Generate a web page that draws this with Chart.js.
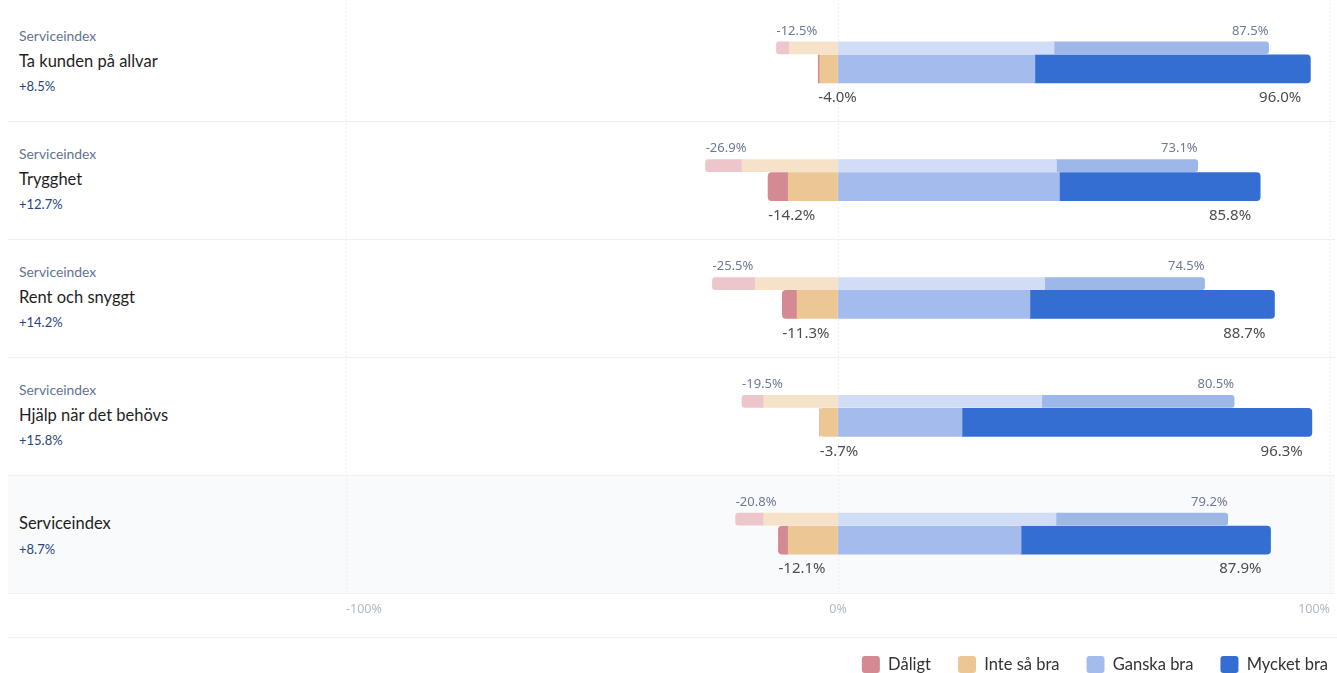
<!DOCTYPE html>
<html lang="sv">
<head>
<meta charset="utf-8">
<title>Serviceindex</title>
<script src="https://cdn.jsdelivr.net/npm/chart.js@4.4.1/dist/chart.umd.min.js"></script>
<style>
  html, body { margin: 0; padding: 0; background: #fff; }
  #wrap { position: relative; width: 1337px; height: 673px; overflow: hidden; font-family: Lato, sans-serif; }
  .row { position: absolute; left: 8px; width: 1327px; height: 117px; border-bottom: 1px solid #eef0f4; }
  .row.total { background: #f9fafc; }
  .row span { position: absolute; left: 11px; white-space: nowrap; line-height: 20px; }
  .kicker { font-size: 13.9px; color: #62738f; }
  .title { font-size: 16.5px; color: #1f1f1f; }
  .change { font-size: 13px; color: #27457f; }
  #footLine { position: absolute; left: 8px; right: 0; top: 637px; border-top: 1px solid #eef0f4; }
  #chart { position: absolute; left: 0; top: 0; }
</style>
</head>
<body>
<div id="wrap">
  <div id="rows"></div>
  <div id="footLine"></div>
  <canvas id="chart" width="1362" height="690"></canvas>
</div>
<script>
  // categories and left-hand texts
  const categories = ['Ta kunden på allvar', 'Trygghet', 'Rent och snyggt', 'Hjälp när det behövs', 'Serviceindex'];
  const kickers = ['Serviceindex', 'Serviceindex', 'Serviceindex', 'Serviceindex', ''];
  const changes = ['+8.5%', '+12.7%', '+14.2%', '+15.8%', '+8.7%'];

  const levels = ['Dåligt', 'Inte så bra', 'Ganska bra', 'Mycket bra'];

  // previous period (thin bars), percent
  const prevDaligt = [2.6, 7.4, 8.7, 4.4, 5.7];
  const prevInte = [9.9, 19.5, 16.8, 15.1, 15.1];
  const prevGanska = [43.9, 44.4, 42.0, 41.4, 44.3];
  const prevMycket = [43.6, 28.7, 32.5, 39.1, 34.9];

  // current period (thick bars), percent
  const currDaligt = [0.3, 4.1, 3.0, 0, 2.0];
  const currInte = [3.7, 10.1, 8.3, 3.7, 10.1];
  const currGanska = [40.0, 45.0, 39.0, 25.2, 37.2];
  const currMycket = [56.0, 40.8, 49.7, 71.1, 50.7];

  const xTicks = [-100, 0, 100];

  const colors = {
    curr: { 'Dåligt': '#d38a92', 'Inte så bra': '#ecc794', 'Ganska bra': '#a4bbed', 'Mycket bra': '#356ed2' },
    prev: { 'Dåligt': '#ecc6ca', 'Inte så bra': '#f5e2c8', 'Ganska bra': '#d1ddf6', 'Mycket bra': '#9db7e8' }
  };

  // left column
  const rowsEl = document.getElementById('rows');
  categories.forEach((c, i) => {
    const row = document.createElement('div');
    row.className = 'row' + (kickers[i] ? '' : ' total');
    row.style.top = (4 + i * 118) + 'px';
    const add = (cls, text, center) => {
      const s = document.createElement('span');
      s.className = cls;
      s.textContent = text;
      s.style.top = (center - 10) + 'px';
      row.appendChild(s);
    };
    if (kickers[i]) {
      add('kicker', kickers[i], 32);
      add('title', c, 57);
      add('change', changes[i], 82);
    } else {
      add('title', c, 47);
      add('change', changes[i], 73);
    }
    rowsEl.appendChild(row);
  });

  // stacking order: nearest zero first
  const series = {
    prev: { 'Inte så bra': prevInte, 'Dåligt': prevDaligt, 'Ganska bra': prevGanska, 'Mycket bra': prevMycket },
    curr: { 'Inte så bra': currInte, 'Dåligt': currDaligt, 'Ganska bra': currGanska, 'Mycket bra': currMycket }
  };
  const negative = ['Dåligt', 'Inte så bra'];

  const datasets = [];
  ['prev', 'curr'].forEach(stack => {
    Object.keys(series[stack]).forEach(level => {
      const vals = series[stack][level];
      datasets.push({
        label: level,
        stack: stack,
        data: vals.map(v => negative.includes(level) ? -v : v),
        backgroundColor: colors[stack][level],
        borderWidth: 0,
        borderRadius: stack === 'prev' ? 3 : 4,
        inflateAmount: 0.4, // hide the seams between segments
        // thin bar sits above, thick bar below the category centre
        categoryPercentage: stack === 'prev' ? 0.4746 : 0.2373,
        barPercentage: stack === 'prev' ? 0.4286 : 2.0
      });
    });
  });

  const fmt = v => v.toFixed(1) + '%';

  const valueLabels = {
    id: 'valueLabels',
    afterDatasetsDraw(chart) {
      const ctx = chart.ctx;
      const x = chart.scales.x;
      ctx.save();
      ctx.textBaseline = 'middle';
      categories.forEach((c, i) => {
        const pBar = chart.getDatasetMeta(0).data[i];
        const cBar = chart.getDatasetMeta(4).data[i];
        const pNeg = -(prevDaligt[i] + prevInte[i]);
        const pPos = prevGanska[i] + prevMycket[i];
        const cNeg = -(currDaligt[i] + currInte[i]);
        const cPos = currGanska[i] + currMycket[i];

        const py = pBar.y - pBar.height / 2 - 11;
        ctx.font = '13px "Noto Sans"';
        ctx.fillStyle = '#6b7b93';
        ctx.textAlign = 'left';
        ctx.fillText(fmt(pNeg), x.getPixelForValue(pNeg), py);
        ctx.textAlign = 'right';
        ctx.fillText(fmt(pPos), x.getPixelForValue(pPos), py);

        const cy = cBar.y + cBar.height / 2 + 15;
        ctx.font = '15px "Noto Sans"';
        ctx.fillStyle = '#4d4d4d';
        ctx.textAlign = 'left';
        ctx.fillText(fmt(cNeg), x.getPixelForValue(cNeg), cy);
        ctx.textAlign = 'right';
        ctx.fillText(fmt(cPos), x.getPixelForValue(cPos) - 9, cy);
      });
      ctx.restore();
    }
  };

  new Chart(document.getElementById('chart'), {
    type: 'bar',
    data: { labels: categories, datasets },
    options: {
      indexAxis: 'y',
      responsive: false,
      animation: false,
      devicePixelRatio: 1,
      layout: { padding: { left: 346, right: 7, top: 3, bottom: 7 } },
      scales: {
        x: {
          type: 'linear',
          stacked: true,
          min: xTicks[0],
          max: xTicks[xTicks.length - 1],
          afterBuildTicks: s => { s.ticks = xTicks.map(v => ({ value: v })); },
          ticks: {
            align: 'inner',
            padding: 10,
            color: '#b0b9c6',
            font: { family: 'Noto Sans', size: 12.5 },
            callback: v => v + '%'
          },
          grid: { color: '#eceff3', drawTicks: false },
          border: { display: false, dash: [2, 2] },
          afterFit: s => { s.height = 37; }
        },
        y: {
          type: 'category',
          stacked: true,
          position: 'right',
          ticks: { display: false },
          grid: { display: false },
          border: { display: false },
          afterFit: s => { s.width = 25; }
        }
      },
      plugins: {
        legend: {
          position: 'bottom',
          align: 'end',
          labels: {
            boxWidth: 18,
            boxHeight: 17,
            useBorderRadius: true,
            borderRadius: 3,
            padding: 27,
            color: '#333',
            font: { family: 'Lato', size: 16.5 },
            filter: item => item.datasetIndex >= 4,
            sort: (a, b) => levels.indexOf(a.text) - levels.indexOf(b.text)
          }
        },
        tooltip: { enabled: false }
      }
    },
    plugins: [valueLabels]
  });
</script>
</body>
</html>
